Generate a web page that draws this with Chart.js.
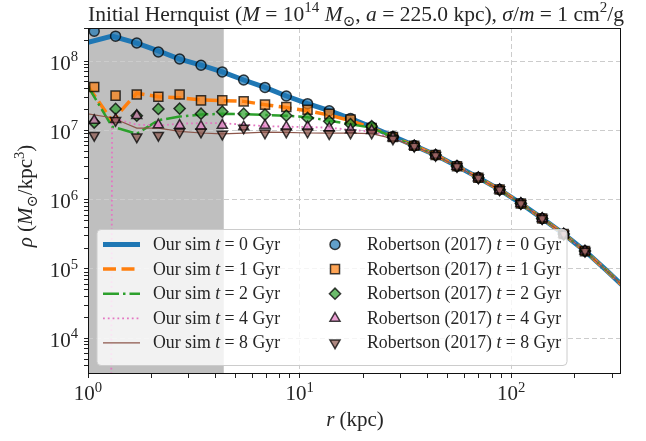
<!DOCTYPE html>
<html>
<head>
<meta charset="utf-8">
<script src="https://cdn.jsdelivr.net/npm/chart.js@4.4.0/dist/chart.umd.min.js"></script>
<style>
  html, body { margin: 0; padding: 0; background: #fff; }
  #wrap { width: 646px; height: 441px; }
</style>
</head>
<body>
<div id="wrap"><canvas id="densityChart"></canvas></div>
<script>
// radii (kpc)
var rSim = [1.0, 1.30, 1.70, 2.15, 2.71, 3.42, 4.31, 5.44, 6.86, 8.65, 10.9, 13.8, 17.4, 21.9, 27.6, 34.8, 43.9, 55.4, 69.9, 88.1, 111, 140, 177, 223, 281, 354];
var rRob = [1.07, 1.35, 1.70, 2.15, 2.71, 3.42, 4.31, 5.44, 6.86, 8.65, 10.9, 13.8, 17.4, 21.9, 27.6, 34.8, 43.9, 55.4, 69.9, 88.1, 111, 140, 177, 223];

// our sim density profiles (Msun/kpc^3)
var simT0 = [1.86e8, 2.29e8, 1.82e8, 1.40e8, 1.07e8, 8.71e7, 6.97e7, 5.33e7, 4.17e7, 3.13e7, 2.43e7, 1.92e7, 1.48e7, 1.12e7, 8.22e6, 6.03e6, 4.42e6, 3.05e6, 2.08e6, 1.40e6, 8.81e5, 5.37e5, 3.20e5, 1.82e5, 9.6e4, 4.93e4];
var simT1 = [4.32e7, 1.37e7, 3.44e7, 3.06e7, 2.96e7, 2.75e7, 2.69e7, 2.62e7, 2.35e7, 2.13e7, 1.92e7, 1.66e7, 1.38e7, 1.09e7, 8.04e6, 6.0e6, 4.41e6, 3.04e6, 2.07e6, 1.40e6, 8.8e5, 5.36e5, 3.19e5, 1.81e5, 9.6e4, 4.93e4];
var simT2 = [4.32e7, 1.13e7, 8.95e6, 1.40e7, 1.58e7, 1.69e7, 1.73e7, 1.71e7, 1.67e7, 1.63e7, 1.55e7, 1.38e7, 1.23e7, 1.09e7, 7.94e6, 5.98e6, 4.40e6, 3.03e6, 2.07e6, 1.39e6, 8.8e5, 5.35e5, 3.19e5, 1.81e5, 9.6e4, 4.93e4];
var simT4 = [1e-100, 1.50e7, 1.21e7, 1.17e7, 1.25e7, 1.27e7, 1.27e7, 1.21e7, 1.15e7, 1.13e7, 1.12e7, 1.09e7, 1.02e7, 9.57e6, 7.76e6, 5.95e6, 4.38e6, 3.03e6, 2.06e6, 1.39e6, 8.8e5, 5.35e5, 3.18e5, 1.81e5, 9.6e4, 4.93e4]; // first bin empty
var simT8 = [1.73e7, 1.52e7, 1.08e7, 1.08e7, 9.68e6, 9.16e6, 8.87e6, 9.12e6, 9.42e6, 9.35e6, 9.16e6, 9.12e6, 9.12e6, 8.95e6, 7.59e6, 5.9e6, 4.36e6, 3.02e6, 2.06e6, 1.39e6, 8.8e5, 5.35e5, 3.18e5, 1.81e5, 9.6e4, 4.93e4];

// Robertson (2017) points
var robT0 = [2.69e8, 2.29e8, 1.82e8, 1.35e8, 1.07e8, 8.71e7, 6.97e7, 5.33e7, 4.17e7, 3.13e7, 2.43e7, 1.92e7, 1.48e7, 1.12e7, 8.13e6, 6.03e6, 4.42e6, 3.05e6, 2.08e6, 1.40e6, 8.81e5, 5.37e5, 3.20e5, 1.82e5];
var robT1 = [4.23e7, 3.17e7, 3.30e7, 3.06e7, 3.30e7, 2.71e7, 2.71e7, 2.62e7, 2.35e7, 2.18e7, 1.99e7, 1.73e7, 1.43e7, 1.08e7, 8.0e6, 6.0e6, 4.40e6, 3.04e6, 2.07e6, 1.40e6, 8.8e5, 5.36e5, 3.19e5, 1.81e5];
var robT2 = [1.30e7, 2.04e7, 1.63e7, 2.04e7, 2.06e7, 1.74e7, 1.86e7, 1.74e7, 1.69e7, 1.63e7, 1.51e7, 1.35e7, 1.23e7, 1.15e7, 7.95e6, 5.98e6, 4.40e6, 3.03e6, 2.07e6, 1.39e6, 8.8e5, 5.35e5, 3.19e5, 1.81e5];
var robT4 = [1.39e7, 1.43e7, 1.63e7, 1.20e7, 1.18e7, 1.14e7, 1.18e7, 1.12e7, 1.18e7, 1.12e7, 1.12e7, 1.08e7, 1.02e7, 9.9e6, 7.8e6, 5.95e6, 4.38e6, 3.03e6, 2.06e6, 1.39e6, 8.8e5, 5.35e5, 3.18e5, 1.81e5];
var robT8 = [8.47e6, 1.39e7, 8.04e6, 8.47e6, 9.48e6, 9.48e6, 8.81e6, 1.08e7, 9.16e6, 9.48e6, 9.48e6, 8.95e6, 9.16e6, 9.16e6, 7.5e6, 5.9e6, 4.36e6, 3.02e6, 2.06e6, 1.39e6, 8.8e5, 5.35e5, 3.18e5, 1.81e5];

var times = ['0', '1', '2', '4', '8'];
var xTicks = [1, 2, 3, 4, 5, 6, 7, 8, 9, 10, 20, 30, 40, 50, 60, 70, 80, 90, 100, 200, 300];
var xMajor = [1, 10, 100];
var yTicks = [4e3, 5e3, 6e3, 7e3, 8e3, 9e3, 1e4, 2e4, 3e4, 4e4, 5e4, 6e4, 7e4, 8e4, 9e4, 1e5, 2e5, 3e5, 4e5, 5e5, 6e5, 7e5, 8e5, 9e5,
  1e6, 2e6, 3e6, 4e6, 5e6, 6e6, 7e6, 8e6, 9e6, 1e7, 2e7, 3e7, 4e7, 5e7, 6e7, 7e7, 8e7, 9e7, 1e8, 2e8, 3e8];
var yMajor = [1e4, 1e5, 1e6, 1e7, 1e8];
var shadeMax = 4.38; // grey band, kpc

var lineColors = ['#1f77b4', '#ff7f0e', '#2ca02c', '#e377c2', '#8c564b'];
var faceColors = ['rgba(31,119,180,0.7)', 'rgba(255,127,14,0.7)', 'rgba(44,160,44,0.7)', 'rgba(227,119,194,0.7)', 'rgba(140,86,75,0.7)'];
var lineWidths = [5, 3.5, 2.5, 1.8, 1.2];
var lineDashes = [[], [13, 5.5], [16, 4, 2.5, 4], [1.8, 3], []];
var markers = [
  { style: 'circle', radius: 5, rotation: 0 },
  { style: 'rect', radius: 6.4, rotation: 0 },
  { style: 'rectRot', radius: 5.6, rotation: 0 },
  { style: 'triangle', radius: 5.8, rotation: 0 },
  { style: 'triangle', radius: 5.8, rotation: 180 }
];
var simSeries = [simT0, simT1, simT2, simT4, simT8];
var robSeries = [robT0, robT1, robT2, robT4, robT8];
var FONT = '"Liberation Serif", "DejaVu Serif", serif';
var TXT = '#262626';

function pts(xs, ys) {
  return ys.map(function (v, i) { return { x: xs[i], y: v }; });
}

var datasets = [];
simSeries.forEach(function (s, k) {
  datasets.push({
    label: 'Our sim t = ' + times[k] + ' Gyr',
    data: pts(rSim, s),
    showLine: true,
    borderColor: lineColors[k],
    borderWidth: lineWidths[k],
    borderDash: lineDashes[k],
    pointRadius: 0,
    tension: 0,
    clip: 0,
    order: 10 - k
  });
});
robSeries.forEach(function (s, k) {
  datasets.push({
    label: 'Robertson (2017) t = ' + times[k] + ' Gyr',
    data: pts(rRob, s),
    showLine: false,
    pointStyle: markers[k].style,
    pointRadius: markers[k].radius,
    pointRotation: markers[k].rotation,
    pointBackgroundColor: faceColors[k],
    pointBorderColor: 'rgba(0,0,0,0.75)',
    pointBorderWidth: 1.5,
    clip: 0,
    order: 5 - k
  });
});

// text with italic / super / subscript pieces
function drawRich(ctx, segs, x, y, size, align) {
  var parts = [], total = 0;
  segs.forEach(function (s) {
    var kind = s[1] || '';
    var small = kind === 'sup' || kind === 'sub';
    var font = (kind === 'i' ? 'italic ' : '') + (small ? size * 0.7 : size) + 'px ' + FONT;
    ctx.font = font;
    var w = ctx.measureText(s[0]).width;
    parts.push({ t: s[0], font: font, w: w, dy: kind === 'sup' ? -size * 0.4 : (kind === 'sub' ? size * 0.22 : 0) });
    total += w;
  });
  var cx = align === 'center' ? x - total / 2 : (align === 'right' ? x - total : x);
  ctx.textAlign = 'left';
  ctx.textBaseline = 'alphabetic';
  parts.forEach(function (p) {
    ctx.font = p.font;
    ctx.fillText(p.t, cx, y + p.dy);
    cx += p.w;
  });
  return total;
}

function drawMarker(ctx, k, x, y) {
  var m = markers[k], r = m.radius;
  ctx.save();
  ctx.beginPath();
  if (m.style === 'circle') {
    ctx.arc(x, y, r, 0, Math.PI * 2);
  } else if (m.style === 'rect') {
    var h = r * Math.SQRT1_2;
    ctx.rect(x - h, y - h, 2 * h, 2 * h);
  } else if (m.style === 'rectRot') {
    ctx.moveTo(x - r, y); ctx.lineTo(x, y - r); ctx.lineTo(x + r, y); ctx.lineTo(x, y + r);
  } else {
    var rad = m.rotation * Math.PI / 180;
    for (var j = 0; j < 3; j++) {
      var px = x + Math.sin(rad) * r, py = y - Math.cos(rad) * r;
      if (j === 0) ctx.moveTo(px, py); else ctx.lineTo(px, py);
      rad += 2 * Math.PI / 3;
    }
  }
  ctx.closePath();
  ctx.fillStyle = faceColors[k];
  ctx.fill();
  ctx.lineWidth = 1.5;
  ctx.strokeStyle = 'rgba(0,0,0,0.75)';
  ctx.stroke();
  ctx.restore();
}

var decorPlugin = {
  id: 'decor',
  beforeDraw: function (chart) {
    var ctx = chart.ctx, a = chart.chartArea, xs = chart.scales.x;
    ctx.save();
    ctx.fillStyle = '#fff';
    ctx.fillRect(0, 0, chart.width, chart.height);
    ctx.fillStyle = '#bfbfbf';
    var x2 = xs.getPixelForValue(shadeMax);
    ctx.fillRect(a.left, a.top, x2 - a.left, a.bottom - a.top);
    ctx.restore();
  },
  afterDatasetsDraw: function (chart) {
    var ctx = chart.ctx, a = chart.chartArea, xs = chart.scales.x, ys = chart.scales.y;
    ctx.save();

    // frame
    ctx.strokeStyle = '#111';
    ctx.lineWidth = 1;
    ctx.strokeRect(a.left + 0.5, a.top + 0.5, a.right - a.left - 1, a.bottom - a.top - 1);

    // legend box
    var bx = 97, by = 229.5, bw = 470, bh = 136, rr = 4;
    ctx.beginPath();
    ctx.moveTo(bx + rr, by);
    ctx.arcTo(bx + bw, by, bx + bw, by + bh, rr);
    ctx.arcTo(bx + bw, by + bh, bx, by + bh, rr);
    ctx.arcTo(bx, by + bh, bx, by, rr);
    ctx.arcTo(bx, by, bx + bw, by, rr);
    ctx.closePath();
    ctx.fillStyle = 'rgba(255,255,255,0.8)';
    ctx.fill();
    ctx.strokeStyle = '#cccccc';
    ctx.stroke();

    ctx.fillStyle = TXT;
    for (var k = 0; k < 5; k++) {
      var ry = 244.5 + k * 24.6;
      ctx.save();
      ctx.beginPath();
      ctx.strokeStyle = lineColors[k];
      ctx.lineWidth = lineWidths[k];
      ctx.setLineDash(lineDashes[k]);
      ctx.moveTo(103, ry);
      ctx.lineTo(140, ry);
      ctx.stroke();
      ctx.restore();
      drawMarker(ctx, k, 335, ry);
      ctx.fillStyle = TXT;
      drawRich(ctx, [['Our sim '], ['t', 'i'], [' = ' + times[k] + ' Gyr']], 153, ry + 5.5, 17.8, 'left');
      drawRich(ctx, [['Robertson (2017) '], ['t', 'i'], [' = ' + times[k] + ' Gyr']], 367, ry + 5.5, 17.8, 'left');
    }

    // tick labels
    xMajor.forEach(function (v, i) {
      var px = xs.getPixelForValue(v);
      drawRich(ctx, [['10'], [String(i), 'sup']], px, 400, 21, 'center');
    });
    yMajor.forEach(function (v) {
      var py = ys.getPixelForValue(v);
      drawRich(ctx, [['10'], [String(Math.round(Math.log10(v))), 'sup']], 78, py + 8.5, 21, 'right');
    });

    // title
    drawRich(ctx, [['Initial Hernquist ('], ['M', 'i'], [' = 10'], ['14', 'sup'], [' '], ['M', 'i'], ['\u2299', 'sub'],
      [', '], ['a', 'i'], [' = 225.0 kpc), '], ['\u03c3', 'i'], ['/'], ['m', 'i'], [' = 1 cm'], ['2', 'sup'], ['/g']],
      356, 21, 21.5, 'center');

    // axis labels
    drawRich(ctx, [['r', 'i'], [' (kpc)']], 355, 426, 21, 'center');
    ctx.translate(32, 196);
    ctx.rotate(-Math.PI / 2);
    drawRich(ctx, [['\u03c1', 'i'], [' ('], ['M', 'i'], ['\u2299', 'sub'], ['/kpc'], ['3', 'sup'], [')']], 0, 0, 21, 'center');
    ctx.restore();
  }
};

function gridColor(ctx) {
  return ctx.tick && ctx.tick.major ? '#cccccc' : 'rgba(0,0,0,0)';
}

new Chart(document.getElementById('densityChart'), {
  type: 'line',
  data: { datasets: datasets },
  options: {
    responsive: true,
    maintainAspectRatio: false,
    animation: false,
    events: [],
    layout: { padding: { left: 0, right: 25, top: 28, bottom: 0 } },
    plugins: { legend: { display: false }, title: { display: false }, tooltip: { enabled: false } },
    scales: {
      x: {
        type: 'logarithmic',
        min: 1,
        max: 330,
        afterBuildTicks: function (scale) {
          scale.ticks = xTicks.map(function (v) { return { value: v, major: xMajor.indexOf(v) >= 0 }; });
        },
        afterFit: function (scale) { scale.height = 67; },
        ticks: { display: false },
        grid: { color: gridColor, tickColor: '#222', tickLength: 4, lineWidth: 1 },
        border: { display: false, dash: [5, 3] }
      },
      y: {
        type: 'logarithmic',
        min: 3050,
        max: 3.0e8,
        afterBuildTicks: function (scale) {
          scale.ticks = yTicks.map(function (v) { return { value: v, major: yMajor.indexOf(v) >= 0 }; });
        },
        afterFit: function (scale) { scale.width = 88; },
        ticks: { display: false },
        grid: { color: gridColor, tickColor: '#222', tickLength: 4, lineWidth: 1 },
        border: { display: false, dash: [5, 3] }
      }
    }
  },
  plugins: [decorPlugin]
});
</script>
</body>
</html>
